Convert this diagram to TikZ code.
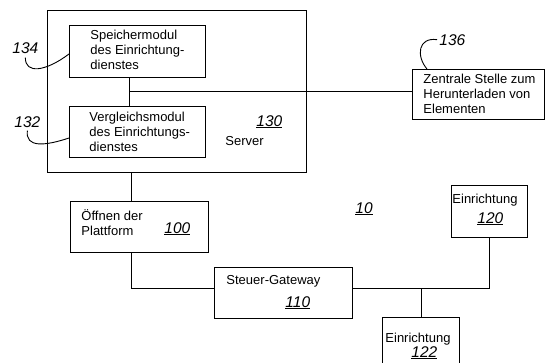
\documentclass[tikz,border=0pt]{standalone}
\usepackage{fontspec}
\setmainfont{Liberation Sans}
\newfontfamily\numfont{Liberation Sans}
\usetikzlibrary{positioning}

\tikzset{
  box/.style={draw, rectangle, inner sep=0pt, anchor=north west},
  txt/.style={anchor=north west, inner sep=0pt, align=left, font=\fontsize{13}{15}\selectfont},
  num/.style={anchor=base west, inner sep=0pt, font=\numfont\itshape\fontsize{15.5}{15}\selectfont},
}

\begin{document}
\begin{tikzpicture}[x=1pt, y=-1pt, line width=0.9pt]
  \useasboundingbox (0,0) rectangle (545,362);
  \clip (0,0) rectangle (545,362);

  % Server with its two modules
  \node[box, minimum width=259, minimum height=162] (server) at (47,10) {};
  \node[box, minimum width=136, minimum height=52] (speicher) at (69,25) {};
  \node[txt, below right=5pt and 21pt of speicher.north west] (speicher-t)
    {Speichermodul\\des Einrichtung-\\dienstes};
  \node[box, minimum width=136, minimum height=51] (vergleich) at (69,106) {};
  \node[txt, below right=6pt and 20pt of vergleich.north west] (vergleich-t)
    {Vergleichsmodul\\des Einrichtungs-\\dienstes};
  \node[num] (n130) at (256,126) {\underline{130}};
  \node[txt, anchor=base west] (server-t) at (225,145) {Server};
  \node[num] (n134) at (12,53) {134};
  \node[num] (n132) at (14,127) {132};

  % Download site
  \node[box, minimum width=132, minimum height=50] (zentrale) at (412,69) {};
  \node[txt, below right=5pt and 11pt of zentrale.north west] (zentrale-t)
    {Zentrale Stelle zum\\Herunterladen von\\Elementen};
  \node[num] (n136) at (439,45) {136};

  % Platform, gateway and devices
  \node[box, minimum width=138, minimum height=51] (oeffnen) at (70,201) {};
  \node[txt, below right=8pt and 11pt of oeffnen.north west] (oeffnen-t)
    {Öffnen der\\Plattform};
  \node[num] (n100) at (164,233) {\underline{100}};
  \node[box, minimum width=138, minimum height=51] (gateway) at (214,267) {};
  \node[txt, below right=8pt and 12pt of gateway.north west] (gateway-t) {Steuer-Gateway};
  \node[num] (n110) at (285,307) {\underline{110}};
  \node[box, minimum width=76, minimum height=52] (einr120) at (451,185) {};
  \node[txt, below right=9pt and 1pt of einr120.north west] (einr120-t) {Einrichtung};
  \node[num] (n120) at (477,223) {\underline{120}};
  \node[box, minimum width=77, minimum height=70] (einr122) at (382,317) {};
  \node[txt, below right=16pt and 3pt of einr122.north west] (einr122-t) {Einrichtung};
  \node[num] (n122) at (411,357) {\underline{122}};
  \node[num] (n10) at (355,213) {\underline{10}};

  % Connectors
  \coordinate (hub) at (129,91);
  \coordinate (tap) at (131.5,0);
  \coordinate (bus) at (0,288);
  \draw (speicher.south -| hub) -- (vergleich.north -| hub);
  \draw (hub) -- (hub -| zentrale.west);
  \draw (server.south -| tap) -- (oeffnen.north -| tap);
  \draw (oeffnen.south -| tap) |- (gateway.west |- bus);
  \draw (gateway.east |- bus) -| (einr120.south);
  \draw (einr122.north) -- (einr122.north |- bus);

  % Reference leaders
  \draw ([yshift=-4pt]n134.south) .. controls (25,74) and (45,72) .. (speicher.west |- 0,54);
  \draw ([yshift=-3pt]n132.south) .. controls (25,148) and (45,146) .. (vergleich.west |- 0,138);
  \draw ([xshift=-2pt]n136.west) .. controls (418,37) and (416,56) .. (zentrale.north -| 427,0);
\end{tikzpicture}
\end{document}
